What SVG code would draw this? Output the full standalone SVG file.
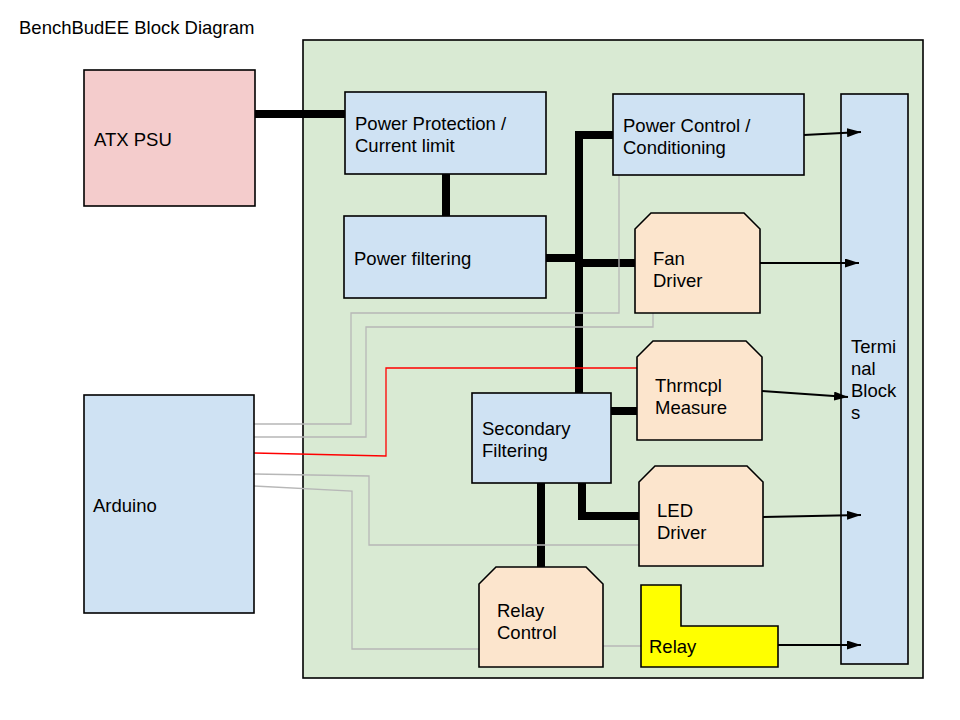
<svg xmlns="http://www.w3.org/2000/svg" width="960" height="720" viewBox="0 0 960 720">
<defs>
<style>
text{font-family:"Liberation Sans",Arial,sans-serif;font-size:18.5px;fill:#000}
.box{stroke:#000;stroke-width:1.6}
.blue{fill:#cfe2f3}
.orange{fill:#fce5cd}
.thick{fill:none;stroke:#000;stroke-width:8}
.grey{fill:none;stroke:#b7b7b7;stroke-width:1.3}
.red{fill:none;stroke:#ff0000;stroke-width:1.3}
.arr{fill:none;stroke:#000;stroke-width:1.8;marker-end:url(#ah)}
</style>
<marker id="ah" viewBox="0 0 10 10" refX="10" refY="5" markerWidth="14" markerHeight="9" markerUnits="userSpaceOnUse" orient="auto" preserveAspectRatio="none">
<path d="M0,0 L10,5 L0,10 z" fill="#000"/>
</marker>
</defs>
<rect width="960" height="720" fill="#fff"/>
<text x="19" y="34">BenchBudEE Block Diagram</text>
<g id="board">
<rect x="303" y="40" width="620" height="638" fill="#d9ead3" class="box"/>
</g>
<g id="connectors">
<path class="thick" d="M255 114 H345"/>
<path class="thick" d="M446 174 V216"/>
<path class="thick" d="M546 258 H580"/>
<path class="thick" d="M613 135 H579 V393"/>
<path class="thick" d="M579 263 H635"/>
<path class="thick" d="M611 411 H637"/>
<path class="thick" d="M582 483 V516 H639"/>
<path class="thick" d="M541 483 V567"/>
<path class="grey" d="M619 175 V313 H351 V424 H254"/>
<path class="grey" d="M653 313 V327 H366 V437 H254"/>
<path class="grey" d="M640 545 H369 V476 L254 474"/>
<path class="grey" d="M479 649 H352 V491 L254 486"/>
<path class="grey" d="M603 646 H641"/>
<path class="red" d="M637 368 H386 V456 L254 453"/>
</g>
<g id="atx">
<rect x="84" y="70" width="171" height="136" fill="#f4cccc" class="box"/>
<text x="94" y="146">ATX PSU</text>
</g>
<g id="arduino">
<rect x="84" y="395" width="170" height="218" class="box blue"/>
<text x="93" y="512">Arduino</text>
</g>
<g id="power-protection">
<rect x="345" y="92" width="201" height="82" class="box blue"/>
<text x="355" y="130">Power Protection /</text>
<text x="355" y="152">Current limit</text>
</g>
<g id="power-filtering">
<rect x="344" y="216" width="202" height="82" class="box blue"/>
<text x="354" y="265">Power filtering</text>
</g>
<g id="power-control">
<rect x="613" y="94" width="191" height="81" class="box blue"/>
<text x="623" y="132">Power Control /</text>
<text x="623" y="154">Conditioning</text>
</g>
<g id="fan-driver">
<polygon points="651,213 744,213 760,229 760,313 635,313 635,229" class="box orange"/>
<text x="653" y="265">Fan</text>
<text x="653" y="287">Driver</text>
</g>
<g id="secondary-filtering">
<rect x="472" y="393" width="139" height="90" class="box blue"/>
<text x="482" y="435">Secondary</text>
<text x="482" y="457">Filtering</text>
</g>
<g id="thrmcpl">
<polygon points="653,341 746,341 762,357 762,440 637,440 637,357" class="box orange"/>
<text x="655" y="392">Thrmcpl</text>
<text x="655" y="414">Measure</text>
</g>
<g id="led-driver">
<polygon points="655,466 747,466 763,482 763,566 639,566 639,482" class="box orange"/>
<text x="657" y="517">LED</text>
<text x="657" y="539">Driver</text>
</g>
<g id="relay-control">
<polygon points="496,567 586,567 603,584 603,667 479,667 479,584" class="box orange"/>
<text x="497" y="617">Relay</text>
<text x="497" y="639">Control</text>
</g>
<g id="relay">
<polygon points="641,585 681,585 681,626 778,626 778,667 641,667" fill="#ffff00" class="box"/>
<text x="649" y="653">Relay</text>
</g>
<g id="terminal-blocks">
<rect x="841" y="94" width="67" height="570" class="box blue"/>
<text x="851" y="353">Termi</text>
<text x="851" y="375">nal</text>
<text x="851" y="397">Block</text>
<text x="851" y="419">s</text>
</g>
<g id="arrows">
<path class="arr" d="M804 135 L861 132"/>
<path class="arr" d="M760 263 L859 263"/>
<path class="arr" d="M762 391 L848 397"/>
<path class="arr" d="M763 517 L861 515"/>
<path class="arr" d="M778 645 L861 645"/>
</g>
</svg>
